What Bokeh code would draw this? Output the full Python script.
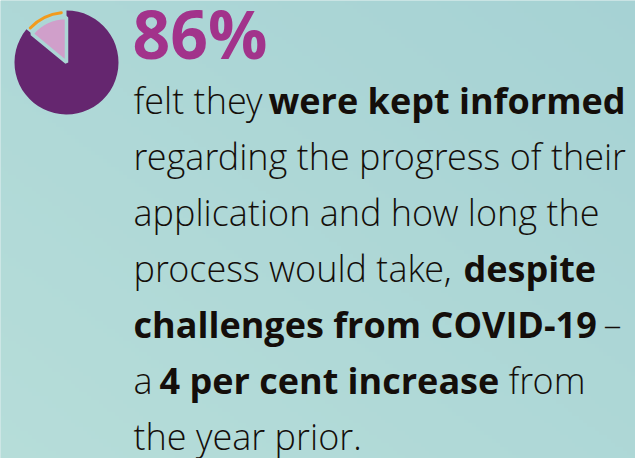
import numpy as np
from bokeh.plotting import figure
from bokeh.models import Range1d
from bokeh.core.properties import value
from bokeh.embed import file_html
from bokeh.resources import INLINE

# ---- data ----
share_values = [86, 14]           # per cent: kept informed / not
share_colors = ["#65266f", "#d09fca"]
headline = "86%"

# body text: (text, weight, segment start x in px) per line
line_segments = [
    [("felt they", "light", 133), ("were kept informed", "bold", 268)],
    [("regarding the progress of their", "light", 133)],
    [("application and how long the", "light", 133)],
    [("process would take,", "light", 133), ("despite", "bold", 463)],
    [("challenges from COVID-19", "bold", 133), ("–", "light", 603)],
    [("a", "light", 133), ("4 per cent increase", "bold", 159), ("from", "light", 508)],
    [("the year prior.", "light", 133)],
]

BG = "#acd6d5"
BG_DARK = (0xa6, 0xd2, 0xd4)   # top-right
BG_LIGHT = (0xb6, 0xdd, 0xd9)  # bottom-left
W, H = 635, 458

p = figure(width=W, height=H, x_range=Range1d(0, W), y_range=Range1d(0, H),
           output_backend="svg", toolbar_location=None, min_border=0)
p.axis.visible = False
p.grid.visible = False
p.outline_line_color = None
p.background_fill_color = BG
p.border_fill_color = BG

# subtle diagonal background gradient
gw, gh = 160, 116
xs = np.linspace(0, 1, gw)[None, :]
ys = np.linspace(0, 1, gh)[:, None]          # 0 at bottom
t = ((1 - xs) + (1 - ys)) / 2.0              # 1 at bottom-left
img = np.empty((gh, gw), dtype=np.uint32)
view = img.view(dtype=np.uint8).reshape((gh, gw, 4))
for k in range(3):
    view[:, :, k] = np.round(BG_DARK[k] + (BG_LIGHT[k] - BG_DARK[k]) * t).astype(np.uint8)
view[:, :, 3] = 255
p.image_rgba(image=[img], x=0, y=0, dw=W, dh=H)


def Y(page_y):
    return H - page_y


# ---- pie ----
cx, cy, r = 66, Y(62), 52
total = sum(share_values)
start = 90.0
main_span = share_values[0] / total * 360.0
small_span = 360.0 - main_span
p.wedge(x=[cx], y=[cy], radius=r, start_angle=start - main_span, end_angle=start + 360,
        start_angle_units="deg", end_angle_units="deg",
        fill_color=share_colors[0], line_color=None)
p.wedge(x=[cx], y=[cy], radius=r - 7, start_angle=start, end_angle=start + small_span,
        start_angle_units="deg", end_angle_units="deg",
        fill_color=share_colors[1], line_color=BG, line_width=3.5)
p.arc(x=[cx], y=[cy], radius=r - 2, start_angle=start + 6, end_angle=start + small_span - 4,
      start_angle_units="deg", end_angle_units="deg",
      line_color="#f29b1d", line_width=3, line_cap="round")

# baseline correction for svg text placement (empirical, fraction of font size)
BASE_K = 0.41

# ---- headline ----
hs = 66
p.text(x=[132], y=[Y(60 - BASE_K * hs)], text=[headline], text_font=value("Open Sans"),
       text_font_style="bold", text_font_size="%dpx" % hs, text_color="#a2338b",
       text_baseline="alphabetic", text_align="left")

# ---- body ----
fs = 36
base0, step = 115, 56
for i, segs in enumerate(line_segments):
    yb = Y(base0 + i * step - BASE_K * fs)
    for txt, weight, x0 in segs:
        if weight == "bold":
            p.text(x=[x0], y=[yb], text=[txt], text_font=value("Open Sans"),
                   text_font_style="bold", text_font_size="%dpx" % fs, text_color="#140e0a",
                   text_baseline="alphabetic", text_align="left")
        else:
            p.text(x=[x0], y=[yb], text=[txt], text_font=value("Open Sans Light"),
                   text_font_style="normal", text_font_size="%dpx" % fs, text_color="#140e0a",
                   text_baseline="alphabetic", text_align="left")

html = file_html(p, INLINE)
html = html.replace("<body>", "<body style=\"background:%s\">" % BG, 1)
open("out.html", "w").write(html)
